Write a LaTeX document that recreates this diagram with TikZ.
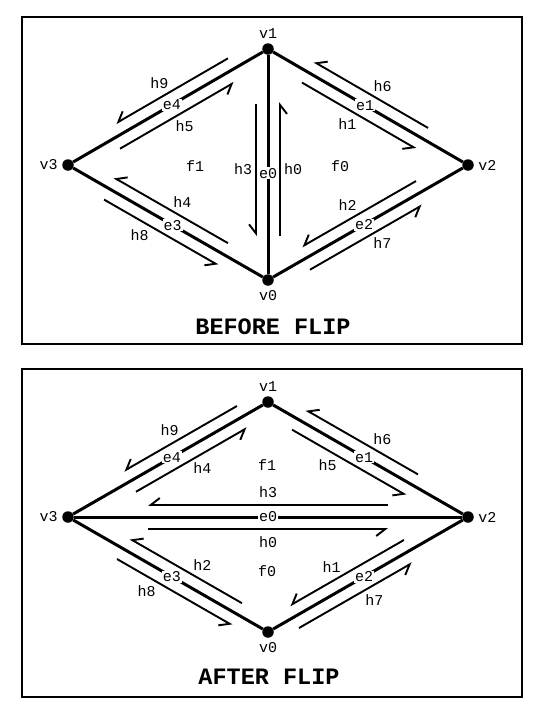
\documentclass[tikz,border=0pt]{standalone}
\usepackage{fontspec}
\setmonofont{Liberation Mono}
\usetikzlibrary{arrows.meta}
\usetikzlibrary{calc}
\usetikzlibrary{positioning}

\newcommand{\lbl}{\ttfamily\fontsize{15}{15}\selectfont}
\tikzset{
  vtx/.style={circle, fill=black, inner sep=0pt, minimum size=11.5pt},
  edge/.style={line width=3pt},
  half/.style={line width=1.9pt, -{Straight Barb[right, length=9pt, width=14pt]}},
  elabel/.style={fill=white, inner sep=1pt, font=\lbl},
  hlabel/.style={font=\lbl},
  frame/.style={line width=2pt},
  title/.style={font=\ttfamily\bfseries\fontsize{23.5}{23.5}\selectfont},
}
% half edge: from, to, start, end, name, label pos
\newcommand{\hedge}[6]{%
  \draw[half] ($(#1)!#3!(#2)!12pt!-90:(#2)$) -- ($(#1)!#4!(#2)!12pt!-90:(#2)$);
  \node[hlabel] at ($(#1)!#6!(#2)!25pt!-90:(#2)$) {#5};}

\begin{document}
\begin{tikzpicture}[x=1pt, y=-1pt]
  \useasboundingbox (0,0) rectangle (555,720);

  % before flip
  \draw[frame] (22,17) rectangle (522,344);
  \node[vtx, label={[hlabel, label distance=1pt]above:v1}] (bv1) at (268,49) {};
  \node[vtx, label={[hlabel, label distance=1pt]right:v2}] (bv2) at (468,165) {};
  \node[vtx, label={[hlabel, label distance=1pt]left:v3}] (bv3) at (68,165) {};
  \node[vtx, label={[hlabel, label distance=1pt]below:v0}] (bv0) at (268,280) {};

  \draw[edge] (bv3) -- node[elabel, pos=.52] {e4} (bv1);
  \draw[edge] (bv1) -- node[elabel, pos=.485] {e1} (bv2);
  \draw[edge] (bv1) -- node[elabel, pos=.54] {e0} (bv0);
  \draw[edge] (bv3) -- node[elabel, pos=.525] {e3} (bv0);
  \draw[edge] (bv0) -- node[elabel, pos=.48] {e2} (bv2);

  \hedge{bv1}{bv3}{.17}{.73}{h9}{.48}
  \hedge{bv3}{bv1}{.23}{.80}{h5}{.52}
  \hedge{bv2}{bv1}{.23}{.80}{h6}{.49}
  \hedge{bv1}{bv2}{.20}{.77}{h1}{.46}
  \hedge{bv1}{bv0}{.24}{.81}{h3}{.52}
  \hedge{bv0}{bv1}{.19}{.77}{h0}{.48}
  \hedge{bv0}{bv3}{.23}{.80}{h4}{.49}
  \hedge{bv3}{bv0}{.21}{.78}{h8}{.42}
  \hedge{bv2}{bv0}{.23}{.80}{h2}{.54}
  \hedge{bv0}{bv2}{.18}{.74}{h7}{.51}

  \node[hlabel] (bf1) at (195,166) {f1};
  \node[hlabel] (bf0) at (340,166) {f0};
  \node[title] (before) at (273,327) {BEFORE FLIP};

  % after flip
  \draw[frame] (22,369) rectangle (522,697);
  \node[vtx, label={[hlabel, label distance=1pt]above:v1}] (av1) at (268,402) {};
  \node[vtx, label={[hlabel, label distance=1pt]right:v2}] (av2) at (468,517) {};
  \node[vtx, label={[hlabel, label distance=1pt]left:v3}] (av3) at (68,517) {};
  \node[vtx, label={[hlabel, label distance=1pt]below:v0}] (av0) at (268,632) {};

  \draw[edge] (av3) -- node[elabel, pos=.52] {e4} (av1);
  \draw[edge] (av1) -- node[elabel, pos=.48] {e1} (av2);
  \draw[edge] (av3) -- node[elabel, pos=.5] {e0} (av2);
  \draw[edge] (av3) -- node[elabel, pos=.52] {e3} (av0);
  \draw[edge] (av0) -- node[elabel, pos=.48] {e2} (av2);

  \hedge{av1}{av3}{.125}{.69}{h9}{.43}
  \hedge{av3}{av1}{.31}{.865}{h4}{.61}
  \hedge{av2}{av1}{.28}{.84}{h6}{.49}
  \hedge{av1}{av2}{.15}{.72}{h5}{.36}
  \hedge{av2}{av3}{.20}{.80}{h3}{.50}
  \hedge{av3}{av2}{.20}{.80}{h0}{.50}
  \hedge{av0}{av3}{.16}{.72}{h2}{.39}
  \hedge{av3}{av0}{.275}{.85}{h8}{.455}
  \hedge{av2}{av0}{.29}{.86}{h1}{.62}
  \hedge{av0}{av2}{.125}{.69}{h7}{.47}

  \node[hlabel] (af1) at (267,465) {f1};
  \node[hlabel] (af0) at (267,571) {f0};
  \node[title] (after) at (269,677) {AFTER FLIP};
\end{tikzpicture}
\end{document}
